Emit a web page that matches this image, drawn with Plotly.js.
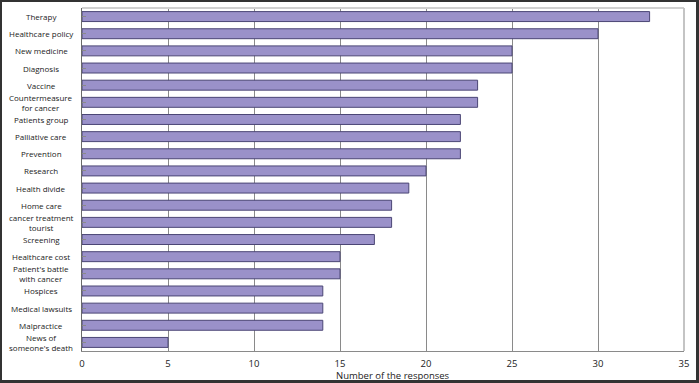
<!DOCTYPE html>
<html><head><meta charset="utf-8">
<script src="https://cdn.plot.ly/plotly-3.0.1.min.js"></script>
<style>html,body{margin:0;padding:0;background:#fff}#wrap{position:relative;width:699px;height:383px}#chart{width:699px;height:383px}#frame{position:absolute;left:0;top:0;width:699px;height:383px;box-sizing:border-box;border:2px solid #333;border-right-width:3px;border-bottom-width:3px;pointer-events:none}</style>
</head><body><div id="wrap"><div id="chart"></div><div id="frame"></div></div>
<script>
const categories = ["Therapy","Healthcare policy","New medicine","Diagnosis","Vaccine","Countermeasure<br>for cancer","Patients group","Palliative care","Prevention","Research","Health divide","Home care","cancer treatment<br>tourist","Screening","Healthcare cost","Patient's battle<br>with cancer","Hospices","Medical lawsuits","Malpractice","News of<br>someone's death"];
const responses = [33,30,25,25,23,23,22,22,22,20,19,18,18,17,15,15,14,14,14,5];
const xTicks = [0,5,10,15,20,25,30,35];

const font = {family:"Open Sans, DejaVu Sans, sans-serif", size:8, color:"#222"};
const annotations = categories.map((c,i)=>({
  x:-0.068, xref:"paper", y:i, yref:"y", text:c, showarrow:false,
  xanchor:"center", yanchor:"middle", align:"center", font:font
}));
annotations.push({x:0.516, xref:"paper", y:-0.07, yref:"paper", yanchor:"middle", text:"Number of the responses", showarrow:false, font:{family:font.family,size:9.5,color:"#222"}});

Plotly.newPlot("chart",[{
  type:"bar", orientation:"h", x:responses, y:categories.map((c,i)=>i),
  marker:{color:"#9a91c9", line:{color:"#4b4675", width:1}},
  hoverinfo:"skip"
}],{
  width:699, height:383,
  margin:{l:82,r:15,t:8,b:32},
  paper_bgcolor:"#fff", plot_bgcolor:"#fff",
  bargap:0.42, showlegend:false,
  xaxis:{range:[0,35], tickvals:xTicks, ticktext:xTicks.map(String), showgrid:true, gridcolor:"#8a8a8a", gridwidth:1,
    showline:true, linecolor:"#8a8a8a", linewidth:1, zeroline:false, ticks:"", ticklabelstandoff:4, tickfont:{family:font.family,size:9.5,color:"#222"}, fixedrange:true},
  yaxis:{range:[categories.length-0.5,-0.5], tickvals:categories.map((c,i)=>i), ticktext:categories.map(()=>""), tickson:"boundaries",
    ticks:"inside", ticklen:4, tickcolor:"#8a8a8a", showgrid:false, showline:true, linecolor:"#6a6a6a", linewidth:1, zeroline:false, fixedrange:true},
  shapes:[
    {type:"line", xref:"paper", yref:"paper", x0:0, x1:1, y0:1, y1:1, line:{color:"#d0d0d0", width:2}},
    {type:"line", xref:"paper", yref:"paper", x0:1, x1:1, y0:0, y1:1, line:{color:"#c4c4c4", width:2}}
  ],
  annotations:annotations
},{staticPlot:true});
</script></body></html>
